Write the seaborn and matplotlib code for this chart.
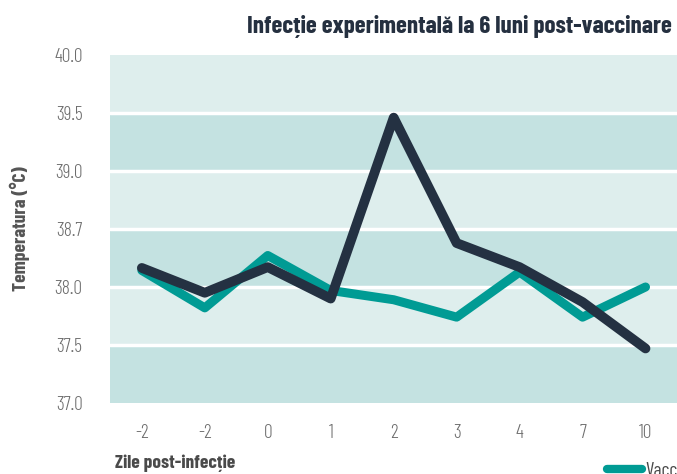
import matplotlib
matplotlib.use('Agg')
import matplotlib.pyplot as plt
import numpy as np
import pandas as pd
import seaborn as sns

sns.set_style("white")
plt.rcParams['font.family'] = ['Barlow Condensed', 'DejaVu Sans']

# Data
day_labels = ["-2", "-2", "0", "1", "2", "3", "4", "7", "10"]
vaccinat = [38.20, 37.82, 38.38, 37.97, 37.89, 37.74, 38.18, 37.74, 38.00]
nevaccinat = [38.23, 37.95, 38.24, 37.90, 39.46, 38.53, 38.24, 37.87, 37.47]
y_ticks = [37.0, 37.5, 38.0, 38.7, 39.0, 39.5, 40.0]
y_tick_labels = ["37.0", "37.5", "38.0", "38.7", "39.0", "39.5", "40.0"]

# axis is evenly spaced between the (uneven) tick values
y_pos = np.arange(len(y_ticks))
x = np.arange(len(day_labels))
df = pd.DataFrame({
    'x': np.concatenate([x, x]),
    'temp': np.interp(vaccinat + nevaccinat, y_ticks, y_pos),
    'grup': ['Vaccinat'] * len(x) + ['Nevaccinat'] * len(x),
})

fig = plt.figure(figsize=(6.77, 4.74), dpi=100)
ax = fig.add_axes([0.163, 0.1498, 0.837, 0.7342])

light, dark = '#deeeed', '#c4e2e1'
for i in range(len(y_ticks) - 1):
    ax.axhspan(i, i + 1, color=dark if i % 2 == 0 else light, lw=0, zorder=0)
for i in range(1, len(y_ticks) - 1):
    ax.axhline(i, color='white', lw=2.5, zorder=1)

sns.lineplot(data=df, x='x', y='temp', hue='grup', ax=ax,
             palette={'Vaccinat': '#009b94', 'Nevaccinat': '#243142'},
             linewidth=6.5, legend=False, zorder=3)
for line in ax.lines[-2:]:
    line.set_solid_capstyle('round')
    line.set_solid_joinstyle('round')
ax.lines[-1].set_linewidth(7)

ax.set_xlim(-0.5, len(x) - 0.5)
ax.set_ylim(0, len(y_ticks) - 1)
ax.set_xticks(x)
ax.set_xticklabels(day_labels)
ax.set_xticks(np.arange(-0.5, len(x), 1.0), minor=True)
ax.set_yticks(y_pos)
ax.set_yticklabels(y_tick_labels)
ax.tick_params(axis='both', which='major', length=0, labelsize=14, colors='#6d6d6d')
ax.tick_params(axis='x', which='major', pad=15)
ax.tick_params(axis='y', which='major', pad=20)
ax.tick_params(axis='x', which='minor', length=4, width=4, color='#009b94', direction='out')
for lab in ax.get_xticklabels() + ax.get_yticklabels():
    lab.set_fontweight(300)
for s in ax.spines.values():
    s.set_visible(False)
ax.set_xlabel('')
ax.set_ylabel('Temperatura (°C)', fontsize=14, fontweight='bold', color='#555555', labelpad=17)

fig.text(0.993, 0.930, 'Infecție experimentală la 6 luni post-vaccinare', ha='right',
         va='baseline', fontsize=18, fontweight='bold', color='#253040')
fig.text(0.170, 0.0127, 'Zile post-infecție', ha='left', va='baseline',
         fontsize=14, fontweight='bold', color='#4a4a4a')

handles = [plt.Line2D([], [], color='#009b94', lw=6, solid_capstyle='round'),
           plt.Line2D([], [], color='#243142', lw=6, solid_capstyle='round')]
fig.legend(handles, ['Vaccinat', 'Nevaccinat'], loc='center left',
           bbox_to_anchor=(0.897, 0.006), ncol=2, frameon=False, fontsize=14,
           handlelength=1.8, handletextpad=0.15, borderaxespad=0, borderpad=0,
           labelcolor='#4a4a4a')

fig.savefig('out.png', dpi=100)
plt.close(fig)
